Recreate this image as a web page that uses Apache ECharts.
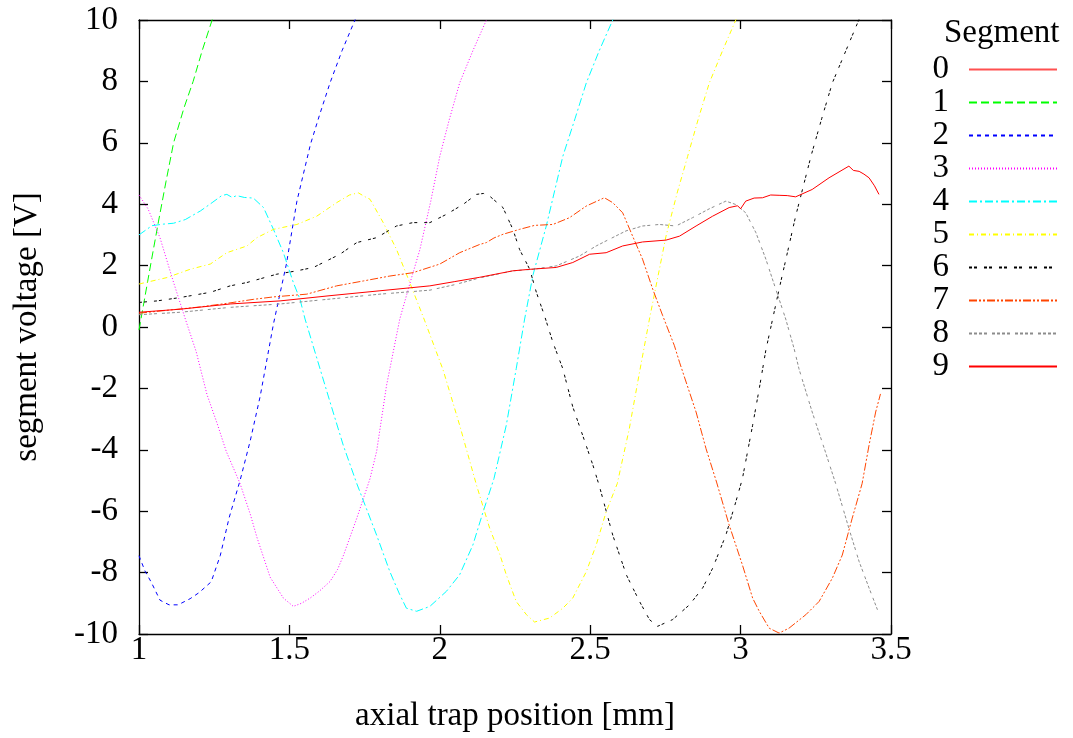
<!DOCTYPE html>
<html>
<head>
<meta charset="utf-8">
<script src="https://cdn.jsdelivr.net/npm/echarts@6/dist/echarts.min.js"></script>
<style>html,body{margin:0;padding:0;background:#fff}#c{width:1073px;height:738px}</style>
</head>
<body>
<div id="c"></div>
<script>
// ---- data (axial position [mm], voltage [V]) ----
const segmentNames = ['0','1','2','3','4','5','6','7','8','9'];
const xTicks = [1, 1.5, 2, 2.5, 3, 3.5];
const yTicks = [-10, -8, -6, -4, -2, 0, 2, 4, 6, 8, 10];

const seg0 = []; // entirely above the plotted range
const seg1 = [[1.0,-0.1],[1.02,1.0],[1.04,2.1],[1.065,3.45],[1.09,4.75],[1.115,6.0],[1.15,7.15],[1.18,8.0],[1.21,9.0],[1.243,10.0],[1.27,10.8]];
const seg2 = [[1.0,-7.45],[1.02,-7.95],[1.04,-8.3],[1.07,-8.9],[1.1,-9.05],[1.13,-9.05],[1.17,-8.85],[1.2,-8.65],[1.24,-8.3],[1.27,-7.45],[1.3,-6.2],[1.336,-5.0],[1.37,-3.7],[1.403,-2.25],[1.447,0.1],[1.49,2.05],[1.525,4.1],[1.57,5.95],[1.6,6.9],[1.635,7.95],[1.675,9.0],[1.718,10.0],[1.75,10.8]];
const seg3 = [[1.0,4.3],[1.03,3.85],[1.07,2.9],[1.115,1.45],[1.154,0.26],[1.19,-0.8],[1.226,-2.2],[1.26,-3.15],[1.29,-4.05],[1.336,-5.1],[1.37,-6.1],[1.392,-6.85],[1.436,-8.15],[1.48,-8.83],[1.513,-9.1],[1.54,-9.0],[1.569,-8.83],[1.6,-8.6],[1.635,-8.29],[1.66,-7.9],[1.68,-7.43],[1.724,-6.23],[1.768,-4.94],[1.79,-4.05],[1.823,-1.9],[1.867,0.26],[1.9,1.4],[1.934,2.53],[1.97,4.1],[2.0,5.56],[2.03,6.7],[2.066,7.95],[2.11,9.0],[2.155,10],[2.19,10.8]];
const seg4 = [[1.0,3.0],[1.01,3.07],[1.043,3.3],[1.08,3.35],[1.115,3.38],[1.154,3.5],[1.204,3.78],[1.243,4.05],[1.275,4.28],[1.292,4.32],[1.31,4.22],[1.325,4.28],[1.35,4.22],[1.38,4.2],[1.414,3.89],[1.447,3.18],[1.48,2.42],[1.513,1.45],[1.535,0.91],[1.552,0.26],[1.58,-0.65],[1.635,-2.44],[1.679,-3.85],[1.724,-5.1],[1.79,-6.78],[1.834,-7.97],[1.867,-8.72],[1.889,-9.16],[1.923,-9.26],[1.967,-9.1],[2.022,-8.61],[2.066,-8.07],[2.11,-7.1],[2.144,-6.02],[2.18,-4.94],[2.221,-3.2],[2.254,-1.36],[2.282,0.26],[2.31,1.7],[2.354,3.29],[2.409,5.56],[2.45,6.8],[2.487,7.95],[2.53,9.0],[2.575,10],[2.61,10.8]];
const seg5 = [[1.0,1.4],[1.093,1.61],[1.17,1.88],[1.237,2.05],[1.292,2.42],[1.359,2.64],[1.392,2.91],[1.447,3.18],[1.525,3.34],[1.591,3.61],[1.657,4.05],[1.7,4.3],[1.729,4.37],[1.75,4.25],[1.768,4.16],[1.812,3.4],[1.856,2.53],[1.9,1.45],[1.95,0.2],[2.011,-1.4],[2.066,-3.2],[2.122,-5.15],[2.166,-6.56],[2.2,-7.42],[2.221,-8.07],[2.254,-8.94],[2.288,-9.37],[2.315,-9.61],[2.365,-9.48],[2.409,-9.16],[2.442,-8.83],[2.487,-7.97],[2.52,-7.1],[2.553,-6.02],[2.59,-5.1],[2.63,-3.31],[2.664,-1.47],[2.697,0.26],[2.752,2.96],[2.79,4.4],[2.824,5.56],[2.86,6.8],[2.896,7.95],[2.94,9.0],[2.984,10],[3.02,10.8]];
const seg6 = [[1.0,0.8],[1.06,0.85],[1.137,0.96],[1.237,1.13],[1.303,1.34],[1.359,1.45],[1.458,1.72],[1.525,1.83],[1.58,1.94],[1.668,2.37],[1.724,2.75],[1.79,2.91],[1.856,3.29],[1.911,3.4],[1.967,3.4],[2.022,3.67],[2.077,3.99],[2.122,4.32],[2.145,4.35],[2.166,4.26],[2.21,3.89],[2.243,3.18],[2.265,2.53],[2.299,1.88],[2.321,1.13],[2.348,0.37],[2.376,-0.5],[2.409,-1.36],[2.442,-2.6],[2.475,-3.53],[2.509,-4.5],[2.531,-5.2],[2.575,-6.78],[2.62,-8.07],[2.664,-8.94],[2.697,-9.53],[2.724,-9.75],[2.774,-9.53],[2.83,-9.05],[2.874,-8.5],[2.907,-7.86],[2.951,-6.78],[2.984,-5.7],[3.006,-4.94],[3.04,-3.2],[3.062,-2.01],[3.084,-0.75],[3.128,1.23],[3.183,3.61],[3.235,5.6],[3.27,6.8],[3.305,7.95],[3.35,9.0],[3.393,10],[3.42,10.8]];
const seg7 = [[1.0,0.45],[1.1,0.55],[1.2,0.65],[1.292,0.77],[1.38,0.9],[1.447,0.98],[1.558,1.07],[1.657,1.34],[1.746,1.5],[1.834,1.66],[1.911,1.77],[2.0,2.05],[2.066,2.42],[2.133,2.69],[2.155,2.75],[2.18,2.9],[2.21,3.02],[2.265,3.18],[2.315,3.31],[2.376,3.34],[2.431,3.56],[2.487,3.94],[2.547,4.21],[2.575,4.05],[2.608,3.72],[2.641,2.96],[2.674,2.21],[2.708,1.23],[2.741,0.37],[2.78,-0.61],[2.797,-1.15],[2.852,-2.77],[2.885,-3.96],[2.92,-5.05],[2.962,-6.45],[3.006,-7.75],[3.04,-8.83],[3.062,-9.26],[3.095,-9.81],[3.128,-9.97],[3.161,-9.81],[3.217,-9.37],[3.261,-8.94],[3.305,-8.18],[3.338,-7.43],[3.371,-6.23],[3.404,-5.1],[3.427,-3.85],[3.449,-2.77],[3.465,-2.18]];
const seg8 = [[1.0,0.4],[1.137,0.48],[1.303,0.64],[1.469,0.75],[1.635,0.91],[1.801,1.07],[1.967,1.2],[2.05,1.38],[2.133,1.6],[2.243,1.83],[2.31,1.88],[2.387,1.99],[2.464,2.31],[2.52,2.64],[2.564,2.86],[2.619,3.13],[2.674,3.29],[2.73,3.34],[2.785,3.29],[2.84,3.56],[2.896,3.85],[2.951,4.1],[2.984,3.99],[3.017,3.72],[3.051,3.07],[3.084,2.21],[3.117,1.23],[3.15,0.26],[3.178,-0.71],[3.194,-1.36],[3.238,-2.77],[3.282,-4.07],[3.316,-5.1],[3.36,-6.56],[3.394,-7.64],[3.427,-8.5],[3.455,-9.21]];
const seg9 = [[1.0,0.48],[1.137,0.58],[1.303,0.75],[1.469,0.85],[1.635,1.02],[1.801,1.18],[1.967,1.34],[2.05,1.48],[2.133,1.62],[2.243,1.83],[2.3,1.88],[2.387,1.94],[2.442,2.1],[2.498,2.37],[2.553,2.42],[2.608,2.64],[2.674,2.77],[2.752,2.83],[2.797,2.96],[2.852,3.29],[2.907,3.61],[2.962,3.89],[2.99,3.95],[3.0,3.85],[3.017,4.1],[3.045,4.2],[3.073,4.21],[3.1,4.3],[3.128,4.29],[3.155,4.28],[3.183,4.24],[3.238,4.48],[3.294,4.86],[3.36,5.24],[3.375,5.1],[3.394,5.07],[3.41,4.98],[3.427,4.86],[3.445,4.6],[3.46,4.32]];

const segData = [seg0, seg1, seg2, seg3, seg4, seg5, seg6, seg7, seg8, seg9];

// ---- styles ----
const colors = ['#ff5050','#00ff00','#0000ff','#ff00ff','#00ffff','#ffff00','#000000','#ff4500','#8c8c8c','#ff0000'];
const dashes = ['solid',[8,4],[4,4],[1,2],[8,3,2,3],[5,3,1,3],[3,2,3,7],[8,2,2,2,2,2],[3,2,3,2,3,2,3,5],'solid'];
const FONT = 'Liberation Serif';
const FS = 33;

const chart = echarts.init(document.getElementById('c'), null, {renderer: 'canvas'});

const axisCommon = {
  type: 'value',
  splitLine: {show: false},
  axisLine: {show: true, onZero: false, lineStyle: {color: '#000', width: 1.3}},
  axisTick: {show: true, inside: true, length: 9, lineStyle: {color: '#000', width: 1.3}},
};

chart.setOption({
  animation: false,
  backgroundColor: '#fff',
  textStyle: {fontFamily: FONT},
  title: {
    text: 'Segment', left: 944, top: 17, padding: 0,
    textStyle: {fontFamily: FONT, fontSize: FS, fontWeight: 'normal', color: '#000'}
  },
  legend: {
    orient: 'vertical', right: 15, top: 53, padding: 0,
    align: 'right',
    itemWidth: 88, itemHeight: 14, itemGap: 0,
    itemStyle: {opacity: 0, borderWidth: 0},
    data: segmentNames,
    textStyle: {fontFamily: FONT, fontSize: FS, color: '#000', padding: [0, 15, 0, 0]}
  },
  grid: {left: 139, right: 182, top: 20, bottom: 102, containLabel: false},
  xAxis: [
    Object.assign({}, axisCommon, {
      position: 'bottom', min: xTicks[0], max: xTicks[xTicks.length-1], interval: 0.5,
      axisLabel: {margin: 0, fontFamily: FONT, fontSize: FS, color: '#000'},
      name: 'axial trap position [mm]', nameLocation: 'middle', nameGap: 66,
      nameTextStyle: {fontFamily: FONT, fontSize: FS, color: '#000'}
    }),
    Object.assign({}, axisCommon, {
      position: 'top', min: xTicks[0], max: xTicks[xTicks.length-1], interval: 0.5,
      axisLabel: {show: false}
    })
  ],
  yAxis: [
    Object.assign({}, axisCommon, {
      position: 'left', min: yTicks[0], max: yTicks[yTicks.length-1], interval: 2,
      axisLabel: {margin: 21, fontFamily: FONT, fontSize: FS, color: '#000'},
      name: 'segment voltage [V]', nameLocation: 'middle', nameGap: 95,
      nameTextStyle: {fontFamily: FONT, fontSize: FS, color: '#000'}
    }),
    Object.assign({}, axisCommon, {
      position: 'right', min: yTicks[0], max: yTicks[yTicks.length-1], interval: 2,
      axisLabel: {show: false}
    })
  ],
  series: segmentNames.map((name, i) => ({
    name: name,
    type: 'line',
    xAxisIndex: 0, yAxisIndex: 0,
    data: segData[i],
    showSymbol: false, symbol: 'none',
    clip: true,
    color: colors[i],
    lineStyle: {color: colors[i], width: 1, type: dashes[i]},
    z: 2 + i
  }))
});
</script>
</body>
</html>
